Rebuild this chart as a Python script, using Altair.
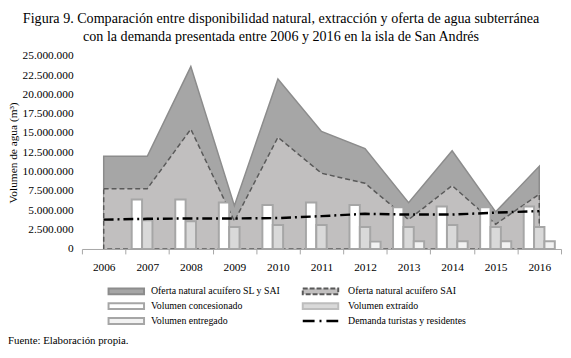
import altair as alt
import pandas as pd

years = [2006, 2007, 2008, 2009, 2010, 2011, 2012, 2013, 2014, 2015, 2016]
oferta_sl_sai = [12_000_000, 12_000_000, 23_600_000, 5_600_000, 22_000_000, 15_200_000,
                 13_000_000, 6_000_000, 12_700_000, 4_800_000, 10_700_000]
oferta_sai = [7_800_000, 7_800_000, 15_500_000, 3_600_000, 14_450_000, 9_800_000,
              8_500_000, 3_800_000, 8_200_000, 3_200_000, 7_100_000]
concesionado = [None, 6_400_000, 6_400_000, 6_000_000, 5_700_000, 6_000_000,
                5_700_000, 5_400_000, 5_500_000, 5_400_000, 5_500_000]
extraido = [None, 3_700_000, 3_600_000, 2_850_000, 3_100_000, 3_100_000,
            2_850_000, 2_850_000, 3_100_000, 2_850_000, 2_850_000]
entregado = [None, None, None, None, None, None,
             950_000, 1_000_000, 1_000_000, 1_000_000, 1_000_000]
demanda = [3_800_000, 3_900_000, 3_950_000, 3_950_000, 4_000_000, 4_250_000,
           4_550_000, 4_450_000, 4_450_000, 4_700_000, 4_900_000]

y_ticks = [0, 2_500_000, 5_000_000, 7_500_000, 10_000_000, 12_500_000,
           15_000_000, 17_500_000, 20_000_000, 22_500_000, 25_000_000]

series_bars = ["Volumen concesionado", "Volumen extraído", "Volumen entregado"]
legend_labels = ["Oferta natural acuífero SL y SAI", "Oferta natural acuífero SAI",
                 "Volumen concesionado", "Volumen extraído",
                 "Volumen entregado", "Demanda turistas y residentes"]
title_lines = ["Figura 9. Comparación entre disponibilidad natural, extracción y oferta de agua subterránea",
               "con la demanda presentada entre 2006 y 2016 en la isla de San Andrés"]
source_text = "Fuente: Elaboración propia."

SERIF = "Liberation Serif"
DARK = "#a6a6a6"
DARK_EDGE = "#8c8c8c"
LIGHT = "#c1bfbf"
SAI_EDGE = "#595959"
BAR_EDGE = "#a6a6a6"
BAR_FILLS = ["#ffffff", "#d9d9d9", "#f2f2f2"]

W, H = 486, 196

df = pd.DataFrame({"year": years, "sl_sai": oferta_sl_sai, "sai": oferta_sai, "demanda": demanda})
bars = pd.DataFrame({"year": years, series_bars[0]: concesionado,
                     series_bars[1]: extraido, series_bars[2]: entregado})
bars = bars.melt(id_vars="year", var_name="serie", value_name="valor").dropna()

xscale = alt.Scale(type="band", paddingInner=0, paddingOuter=0)
xaxis = alt.Axis(title=None, labelAngle=0, tickBand="extent", domainColor=BAR_EDGE,
                 tickColor=BAR_EDGE, tickSize=5, labelPadding=8, labelFont=SERIF,
                 labelFontSize=11.5, labelColor="black", grid=False, zindex=1)
yscale = alt.Scale(domain=[0, 25_000_000], nice=False)
yaxis = alt.Axis(values=y_ticks, domain=False, ticks=False, grid=False, labelOverlap=False,
                 labelExpr="replace(replace(format(datum.value, ','), ',', '.'), ',', '.')",
                 labelPadding=9, labelFont=SERIF, labelFontSize=11.5, labelColor="black",
                 title="Volumen de agua (m³)", titleFont=SERIF, titleFontSize=11.5,
                 titleFontWeight="normal", titleColor="black", titleX=-69, titleY=H / 2,
                 titleAlign="center", titleBaseline="middle")


def yc(field):
    return alt.Y(field, type="quantitative", scale=yscale, axis=yaxis)


xc = alt.X("year:O", scale=xscale, axis=xaxis, bandPosition=0.5)

area_dark = alt.Chart(df).mark_area(color=DARK, stroke=DARK_EDGE, strokeWidth=1.5, opacity=1).encode(
    x=xc, y=yc("sl_sai"))
area_light = alt.Chart(df).mark_area(color=LIGHT, stroke=SAI_EDGE, strokeWidth=1.5,
                                     strokeDash=[5, 3], opacity=1).encode(
    x=xc, y=yc("sai"))
bar_layer = alt.Chart(bars).mark_bar(stroke=BAR_EDGE, strokeWidth=2).encode(
    x=alt.X("year:O", scale=xscale, axis=xaxis),
    xOffset=alt.XOffset("serie:N", scale=alt.Scale(domain=series_bars, paddingInner=0, paddingOuter=0.6)),
    y=yc("valor"),
    fill=alt.Fill("serie:N", scale=alt.Scale(domain=series_bars, range=BAR_FILLS), legend=None))
line_layer = alt.Chart(df).mark_line(color="black", strokeWidth=2.5, strokeDash=[10, 4, 2, 4]).encode(
    x=xc, y=yc("demanda"))

one = alt.Data(values=[{"k": 0}])


def sym_rect(x, y, fill, stroke, dash=None):
    kw = dict(fill=fill, stroke=stroke, strokeWidth=2)
    if dash:
        kw["strokeDash"] = dash
    return alt.Chart(one).mark_rect(**kw).encode(
        x=alt.value(x), x2=alt.value(x + 36), y=alt.value(y - 3), y2=alt.value(y + 3))


def label(x, y, text, size=10):
    return alt.Chart(one).mark_text(align="left", baseline="middle", font=SERIF,
                                    fontSize=size, color="black").encode(
        x=alt.value(x), y=alt.value(y), text=alt.value(text))


r1, r2, r3 = 239, 254, 269
lx, rx = 27, 224
legend_layers = [
    sym_rect(lx, r1, DARK, DARK_EDGE), label(lx + 43, r1, legend_labels[0]),
    sym_rect(rx, r1, LIGHT, SAI_EDGE, [5, 2]), label(rx + 46, r1, legend_labels[1]),
    sym_rect(lx, r2, BAR_FILLS[0], BAR_EDGE), label(lx + 43, r2, legend_labels[2]),
    sym_rect(rx, r2, BAR_FILLS[1], "#bdbdbd"), label(rx + 46, r2, legend_labels[3]),
    sym_rect(lx, r3, BAR_FILLS[2], BAR_EDGE), label(lx + 43, r3, legend_labels[4]),
    alt.Chart(one).mark_rule(color="black", strokeWidth=2.5, strokeDash=[12, 5, 2, 5]).encode(
        x=alt.value(rx), x2=alt.value(rx + 36), y=alt.value(r3)),
    label(rx + 46, r3, legend_labels[5]),
    label(-75, 289, source_text, 11),
]

chart = alt.layer(area_dark, area_light, bar_layer, line_layer, *legend_layers).properties(
    width=W, height=H,
    title=alt.TitleParams(text=title_lines, font=SERIF, fontSize=14.3, fontWeight="normal",
                          color="black", anchor="middle", dx=-41, offset=6, lineHeight=18),
    padding={"left": 75, "top": 46, "right": 2, "bottom": 98},
    autosize=alt.AutoSizeParams(type="none"),
    background="white",
).configure_view(stroke=None).configure_axis(labelOverlap=False)

chart.save("out.html", embed_options={"renderer": "svg", "actions": False})
